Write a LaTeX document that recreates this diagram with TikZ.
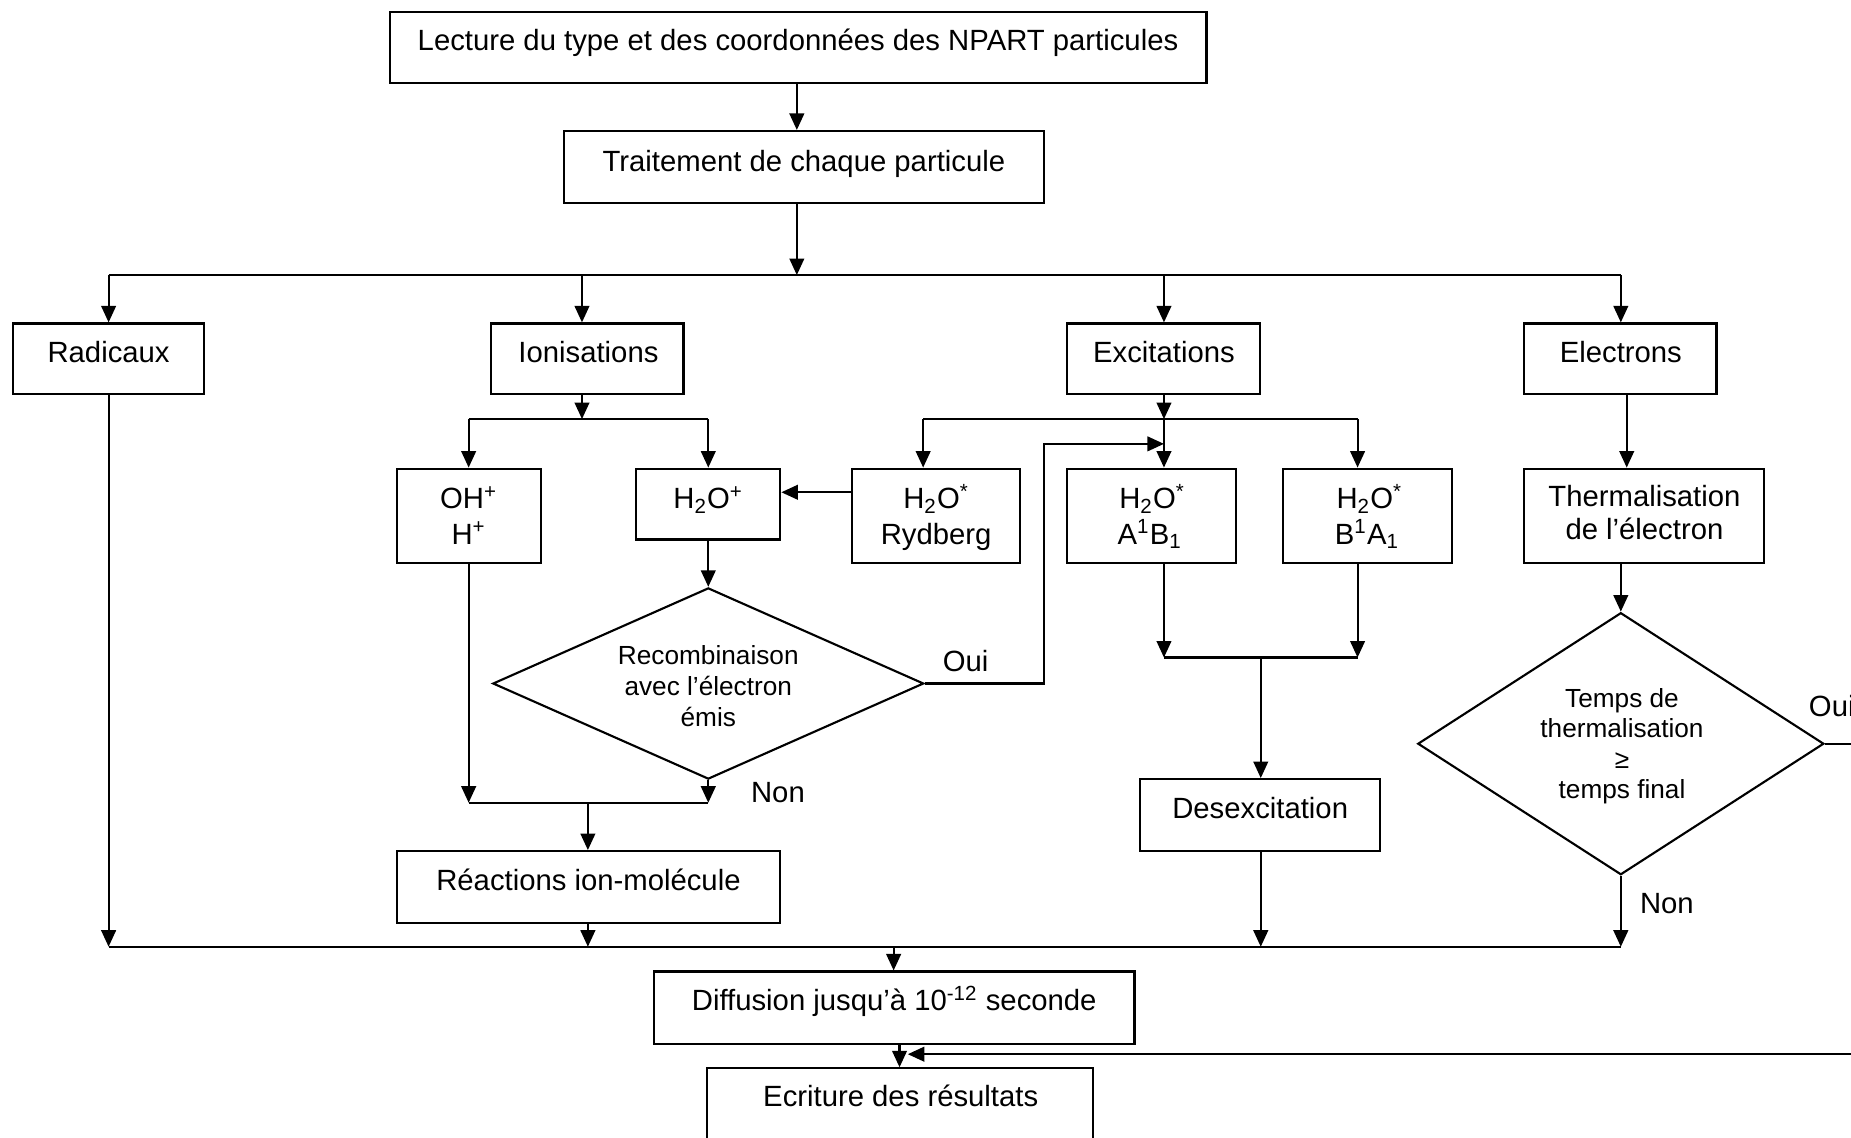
\documentclass[tikz,border=0pt]{standalone}
\usepackage{fontspec}
\setmainfont{Liberation Sans}
\usetikzlibrary{arrows.meta,shapes.geometric}

\begin{document}
\begin{tikzpicture}[x=0.5pt,y=-0.5pt,
  ln/.style={line width=0.9pt},
  arr/.style={ln,-{Triangle[length=7pt,width=6.2pt]}},
  bx/.style 2 args={draw,ln,rectangle,inner sep=0pt,minimum width=#1*0.5pt,minimum height=#2*0.5pt},
  dm/.style 2 args={draw,ln,diamond,inner sep=0pt,minimum width=#1*0.5pt,minimum height=#2*0.5pt},
  tx/.style={anchor=base,inner sep=0pt,font=\fontsize{12.4pt}{14pt}\selectfont},
  ts/.style={anchor=base,inner sep=0pt,font=\fontsize{11.1pt}{13pt}\selectfont},
]
\useasboundingbox (0,0) rectangle (1568,964);
\clip (0,0) rectangle (1568,964);

% ---- header boxes
\node[bx={692}{60}] (lect) at (676,40) {};
\node[tx] (lectT) at (676,43) {Lecture du type et des coordonnées des NPART particules};
\node[bx={406}{61}] (trait) at (681,141.5) {};
\node[tx] (traitT) at (681,145) {Traitement de chaque particule};

% ---- upper distribution bus
\coordinate (b0) at (675,233);
\coordinate (bA) at (92,233);
\coordinate (bB) at (493,233);
\coordinate (bC) at (986,233);
\coordinate (bD) at (1373,233);

% ---- particle categories
\node[bx={162}{60}] (rad) at (92,304) {};
\node[tx] (radT) at (92,307) {Radicaux};
\node[bx={163}{60}] (ion) at (497.5,304) {};
\node[tx] (ionT) at (498.5,307) {Ionisations};
\node[bx={163}{60}] (exc) at (985.5,304) {};
\node[tx] (excT) at (986,307) {Excitations};
\node[bx={163}{60}] (ele) at (1372.5,304) {};
\node[tx] (eleT) at (1373,307) {Electrons};

\draw[arr] (lect.south -| b0) -- (trait.north -| b0);
\draw[arr] (trait.south -| b0) -- (b0);
\draw[ln] (bA) -- (bD);
\draw[arr] (bA) -- (bA |- rad.north);
\draw[arr] (bB) -- (bB |- ion.north);
\draw[arr] (bC) -- (bC |- exc.north);
\draw[arr] (bD) -- (bD |- ele.north);

% ---- ionisation products
\node[bx={122}{80}] (oh) at (397,437) {};
\node[tx] (ohT1) at (397,431) {OH\textsuperscript{+}};
\node[tx] (ohT2) at (397,461) {H\textsuperscript{+}};
\node[bx={122}{60}] (h2op) at (600,427) {};
\node[tx] (h2opT) at (600,431) {H\textsubscript{2}O\textsuperscript{+}};

\coordinate (iB) at (493,355);
\coordinate (iL) at (397,355);
\coordinate (iR) at (600,355);
\draw[arr] (ion.south -| iB) -- (iB);
\draw[ln] (iL) -- (iR);
\draw[arr] (iL) -- (iL |- oh.north);
\draw[arr] (iR) -- (iR |- h2op.north);

% ---- excited states
\node[bx={142}{80}] (ryd) at (793,437) {};
\node[tx] (rydT1) at (793,431) {H\textsubscript{2}O\textsuperscript{*}};
\node[tx] (rydT2) at (793,461) {Rydberg};
\node[bx={143}{80}] (a1) at (975.5,437) {};
\node[tx] (a1T1) at (976,431) {H\textsubscript{2}O\textsuperscript{*}};
\node[tx] (a1T2) at (974,461) {A\textsuperscript{1}B\textsubscript{1}};
\node[bx={143}{80}] (b1) at (1158.5,437) {};
\node[tx] (b1T1) at (1160,431) {H\textsubscript{2}O\textsuperscript{*}};
\node[tx] (b1T2) at (1158,461) {B\textsuperscript{1}A\textsubscript{1}};

\coordinate (eB) at (986,355);
\coordinate (eL) at (782,355);
\coordinate (eR) at (1150,355);
\draw[arr] (exc.south -| eB) -- (eB);
\draw[ln] (eL) -- (eR);
\draw[arr] (eL) -- (eL |- ryd.north);
\draw[arr] (eB) -- (eB |- a1.north);
\draw[arr] (eR) -- (eR |- b1.north);

\coordinate (rj) at (722,417);
\draw[arr] (rj) -- (rj -| h2op.east);

% ---- electrons
\node[bx={203}{80}] (therm) at (1392.5,437) {};
\node[tx] (thermT1) at (1393,429) {Thermalisation};
\node[tx] (thermT2) at (1393,457) {de l’électron};
\coordinate (xE) at (1378,380);
\draw[arr] (ele.south -| xE) -- (therm.north -| xE);

% ---- recombination test
\node[dm={365}{162}] (rec) at (600,579) {};
\node[ts] (recT1) at (600,563) {Recombinaison};
\node[ts] (recT2) at (600,589) {avec l’électron};
\node[ts] (recT3) at (600,615) {émis};
\draw[arr] (h2op.south) -- (rec.north);
\coordinate (k1) at (884,376);
\coordinate (k2) at (986,376);
\draw[arr] (rec.east) -| (k1) -- (k2);
\node[tx] (ouiA) at (818,569) {Oui};
\node[tx] (nonA) at (659,680) {Non};

\coordinate (jL) at (397,680);
\coordinate (jR) at (600,680);
\coordinate (jM) at (498,680);
\draw[arr] (rec.south) -- (jR);
\draw[arr] (oh.south) -- (jL);
\draw[ln] (jL) -- (jR);

\node[bx={325}{61}] (reac) at (498.5,751.5) {};
\node[tx] (reacT) at (498.5,754) {Réactions ion-molécule};
\draw[arr] (jM) -- (reac.north -| jM);

% ---- de-excitation
\coordinate (dL) at (986,557);
\coordinate (dR) at (1150,557);
\coordinate (dM) at (1068,557);
\draw[arr] (a1.south -| dL) -- (dL);
\draw[arr] (b1.south -| dR) -- (dR);
\draw[ln] (dL) -- (dR);
\node[bx={203}{61}] (desx) at (1067.5,690.5) {};
\node[tx] (desxT) at (1067.5,693) {Desexcitation};
\draw[arr] (dM) -- (desx.north -| dM);

% ---- thermalisation time test
\node[dm={344}{222}] (thm) at (1373,630) {};
\node[ts] (thmT1) at (1374,599) {Temps de};
\node[ts] (thmT2) at (1374,625) {thermalisation};
\node[ts] (thmT3) at (1374,651) {≥};
\node[ts] (thmT4) at (1374,676) {temps final};
\coordinate (xT) at (1373,500);
\draw[arr] (therm.south -| xT) -- (thm.north);
\node[tx,anchor=base west] (ouiB) at (1532,607) {Oui};
\node[tx] (nonB) at (1412,774) {Non};

% ---- lower collecting bus
\coordinate (mA) at (92,802);
\coordinate (mB) at (498,802);
\coordinate (mX) at (757,802);
\coordinate (mC) at (1068,802);
\coordinate (mD) at (1373,802);
\draw[ln] (mA) -- (mD);
\draw[arr] (rad.south) -- (mA);
\draw[arr] (reac.south -| mB) -- (mB);
\draw[arr] (desx.south -| mC) -- (mC);
\draw[arr] (thm.south) -- (mD);

% ---- diffusion and output
\node[bx={407}{61}] (diff) at (757.5,853.5) {};
\node[tx] (diffT) at (757.5,856) {Diffusion jusqu’à 10\textsuperscript{-12} seconde};
\draw[arr] (mX) -- (diff.north -| mX);
\node[bx={327}{61}] (ecr) at (762.5,935.5) {};
\node[tx] (ecrT) at (763,937) {Ecriture des résultats};
\coordinate (xW) at (762,893);
\draw[arr] (diff.south -| xW) -- (ecr.north -| xW);

\coordinate (rt) at (1600,893);
\coordinate (rtip) at (769,893);
\draw[arr] (thm.east) -| (rt) -- (rtip);
\end{tikzpicture}
\end{document}
